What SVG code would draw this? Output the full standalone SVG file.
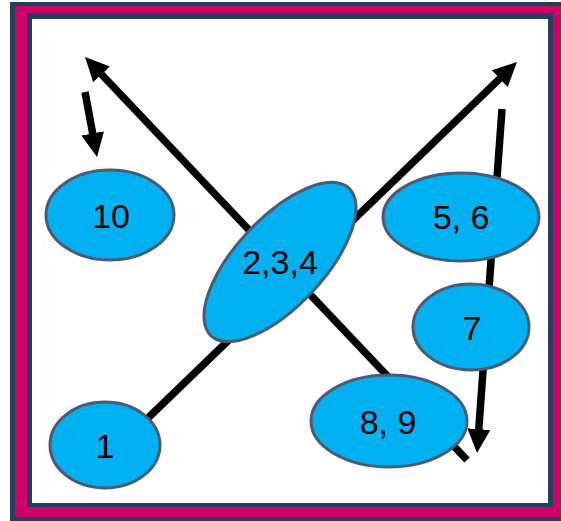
<svg xmlns="http://www.w3.org/2000/svg" width="561" height="521" viewBox="0 0 561 521">
<style>
.node ellipse{fill:#00B0F0;stroke:#4A5B75;stroke-width:3}
.node text{font-family:"Liberation Sans",Arial,sans-serif;font-size:34px;fill:#000;text-anchor:middle}
.conn line{stroke:#000;stroke-width:7.5;stroke-linecap:butt}
</style>
<defs>
<marker id="ah" viewBox="0 0 24 24" markerWidth="24" markerHeight="24" markerUnits="userSpaceOnUse" refX="4" refY="11.5" orient="auto">
<path d="M0,0 L24,11.5 L0,23 z" fill="#000"/>
</marker>
</defs>
<g id="frame">
<rect x="10" y="2" width="551" height="519" fill="#263F61"/>
<rect x="15" y="6" width="546" height="511" fill="#CC0066"/>
<rect x="27" y="13" width="526" height="494" fill="#263F61"/>
<rect x="32" y="19" width="516" height="484" fill="#FFFFFF"/>
</g>
<g id="connectors" class="conn">
<line x1="148" y1="418" x2="502.6" y2="75.9" marker-end="url(#ah)"/>
<line x1="467" y1="460" x2="98.8" y2="71.5" marker-end="url(#ah)"/>
<line x1="85" y1="92" x2="93.4" y2="137.3" marker-end="url(#ah)"/>
<line x1="502" y1="109" x2="478.5" y2="433.1" marker-end="url(#ah)"/>
</g>
<g id="n10" class="node"><ellipse cx="110" cy="215" rx="64" ry="45"/><text x="111" y="228">10</text></g>
<g id="n1" class="node"><ellipse cx="105" cy="445" rx="55" ry="43"/><text x="105" y="458">1</text></g>
<g id="n234" class="node"><ellipse cx="280" cy="262" rx="101" ry="44" transform="rotate(-47 280 262)"/><text x="280" y="274">2,3,4</text></g>
<g id="n56" class="node"><ellipse cx="461" cy="217" rx="78" ry="44"/><text x="461" y="229">5, 6</text></g>
<g id="n7" class="node"><ellipse cx="471" cy="327" rx="58" ry="43"/><text x="472" y="340">7</text></g>
<g id="n89" class="node"><ellipse cx="389" cy="421" rx="78" ry="46"/><text x="388" y="434">8, 9</text></g>
</svg>
